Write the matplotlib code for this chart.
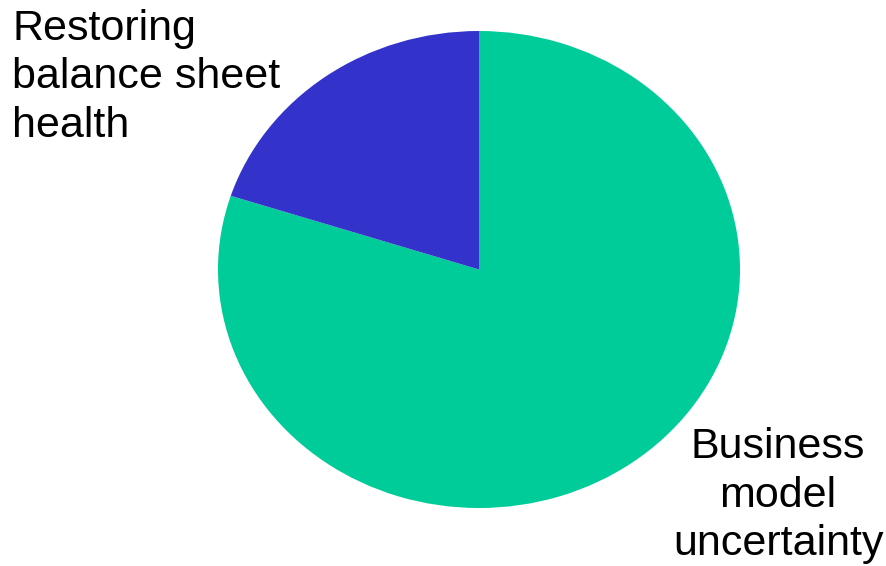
import matplotlib.pyplot as plt

# data
labels = ["Business model uncertainty", "Restoring balance sheet health"]
values = [80, 20]
colors = ["#00CC99", "#3333CC"]

plt.rcParams['font.family'] = ['Liberation Sans', 'DejaVu Sans']

fig = plt.figure(figsize=(8.86, 5.66), dpi=100)
# pie is drawn a bit squashed, so axes aspect is left free
ax = fig.add_axes([218/886, 58/566, 522/886, 477/566])
ax.pie(values, colors=colors, startangle=90, counterclock=False,
       wedgeprops=dict(linewidth=0))
ax.set_aspect('auto')
ax.set_xlim(-1, 1)
ax.set_ylim(-1, 1)
ax.axis('off')

fig.text(12/886, 1 - 9/566, "Restoring\nbalance sheet\nhealth", ha='left', va='top',
         fontsize=31, linespacing=1.27)
fig.text(778/886, 1 - 564/566, "Business\nmodel\nuncertainty", ha='center', va='bottom',
         fontsize=31, linespacing=1.27)

fig.savefig("out.png", dpi=100)
